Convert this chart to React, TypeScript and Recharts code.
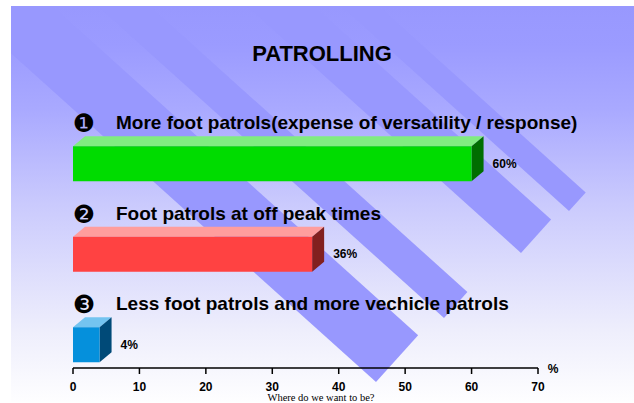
import React from "react";
import { BarChart, Bar, XAxis, YAxis } from "recharts";

const title = "PATROLLING";
const categories = [
  "More foot patrols(expense of versatility / response)",
  "Foot patrols at off peak times",
  "Less foot patrols and more vechicle patrols",
];
const markers = ["❶", "❷", "❸"];
const values = [60, 36, 4];
const valueLabels = ["60%", "36%", "4%"];
const xTicks = [0, 10, 20, 30, 40, 50, 60, 70];
const xUnit = "%";
const footer = "Where do we want to be?";

const FRONT = ["#00dc00", "#ff4242", "#0590dc"];
const TOP = ["#80ec80", "#ff9d9d", "#74c4f0"];
const SIDE = ["#006e00", "#82201f", "#004a78"];

const data = categories.map((c, i) => ({
  name: c,
  value: values[i],
  marker: markers[i],
  label: valueLabels[i],
}));

const W = 634;
const H = 403;
const BAR_H = 35;
const SHIFT = 21.75;
const DX = 12;
const DY = 10;
const SANS = "'Liberation Sans', Arial, sans-serif";

// decorative background stripes (tip point, width)
const stripes = [
  { tx: 376, ty: 382, w: 63 },
  { tx: 444, ty: 318, w: 35 },
  { tx: 521, ty: 253, w: 45 },
  { tx: 569, ty: 211, w: 25 },
];
const DIR = { x: 0.743, y: 0.669 };
const NOR = { x: 0.669, y: -0.743 };

function stripePoints(s: { tx: number; ty: number; w: number }) {
  const L = 900;
  const p1 = [s.tx, s.ty];
  const p2 = [s.tx + s.w * NOR.x, s.ty + s.w * NOR.y];
  const p3 = [p2[0] - L * DIR.x, p2[1] - L * DIR.y];
  const p4 = [s.tx - L * DIR.x, s.ty - L * DIR.y];
  return [p1, p2, p3, p4].map((p) => p.join(",")).join(" ");
}

const Bar3D = (props: any) => {
  const { x, y, width, index, payload } = props;
  const fy = y + SHIFT;
  const x2 = x + width;
  const base = fy - 17;
  return (
    <g>
      <polygon
        points={`${x},${fy} ${x + DX},${fy - DY} ${x2 + DX},${fy - DY} ${x2},${fy}`}
        fill={TOP[index]}
      />
      <polygon
        points={`${x2},${fy} ${x2 + DX},${fy - DY} ${x2 + DX},${fy + BAR_H - DY} ${x2},${fy + BAR_H}`}
        fill={SIDE[index]}
      />
      <rect x={x} y={fy} width={width} height={BAR_H} fill={FRONT[index]} />
      <text
        x={x + 11}
        y={base + 3}
        textAnchor="middle"
        fontSize={25}
        fontFamily="'DejaVu Sans', sans-serif"
        fill="#000"
      >
        {payload.marker}
      </text>
      <text x={x + 43} y={base} fontSize={19} fontWeight="bold" fontFamily={SANS} fill="#000">
        {payload.name}
      </text>
      <text
        x={x2 + 21}
        y={fy + BAR_H / 2 + 4}
        fontSize={12}
        fontWeight="bold"
        fontFamily={SANS}
        fill="#000"
      >
        {payload.label}
      </text>
    </g>
  );
};

export default function App() {
  return (
    <div style={{ position: "absolute", left: 0, top: 0, width: W, height: H }}>
      <svg width={W} height={H} style={{ position: "absolute", left: 0, top: 0 }}>
        <defs>
          <linearGradient id="bg" x1="0" y1="0" x2="0" y2="1">
            <stop offset="0" stopColor="#9898fe" />
            <stop offset="0.1" stopColor="#9b9bff" />
            <stop offset="0.26" stopColor="#a9a9ff" />
            <stop offset="0.5" stopColor="#cacafd" />
            <stop offset="0.82" stopColor="#eeeefc" />
            <stop offset="1" stopColor="#fefeff" />
          </linearGradient>
          <clipPath id="panel">
            <rect x={11} y={6} width={623} height={396} />
          </clipPath>
        </defs>
        <rect x={0} y={0} width={W} height={H} fill="#fff" />
        <g clipPath="url(#panel)">
          <rect x={11} y={6} width={623} height={396} fill="url(#bg)" />
          {stripes.map((s, i) => (
            <polygon key={i} points={stripePoints(s)} fill="#9898fe" />
          ))}
        </g>
      </svg>
      <div style={{ position: "absolute", left: 0, top: 0 }}>
        <BarChart
          width={W}
          height={H}
          data={data}
          layout="vertical"
          margin={{ top: 96.5, right: 96, bottom: 5, left: 73 }}
        >
          <XAxis
            type="number"
            domain={[0, 70]}
            ticks={xTicks}
            interval={0}
            height={30}
            axisLine={{ stroke: "#000", strokeWidth: 1.5 }}
            tickLine={{ stroke: "#000", strokeWidth: 1.5 }}
            tickSize={6}
            tickMargin={8}
            tick={{ fill: "#000", fontSize: 12, fontWeight: "bold", fontFamily: SANS }}
          />
          <YAxis type="category" dataKey="name" hide width={0} />
          <Bar dataKey="value" barSize={BAR_H} shape={Bar3D} isAnimationActive={false} />
        </BarChart>
      </div>
      <svg
        width={W}
        height={H}
        style={{ position: "absolute", left: 0, top: 0, pointerEvents: "none" }}
      >
        <text x={322} y={61} textAnchor="middle" fontSize={22} fontWeight="bold" fontFamily={SANS} fill="#000">
          {title}
        </text>
        <text x={553} y={373} textAnchor="middle" fontSize={12} fontWeight="bold" fontFamily={SANS} fill="#000">
          {xUnit}
        </text>
        <text
          x={321}
          y={401}
          textAnchor="middle"
          fontSize={10.5}
          fontFamily="'Liberation Serif', 'Times New Roman', serif"
          fill="#000"
        >
          {footer}
        </text>
      </svg>
    </div>
  );
}
